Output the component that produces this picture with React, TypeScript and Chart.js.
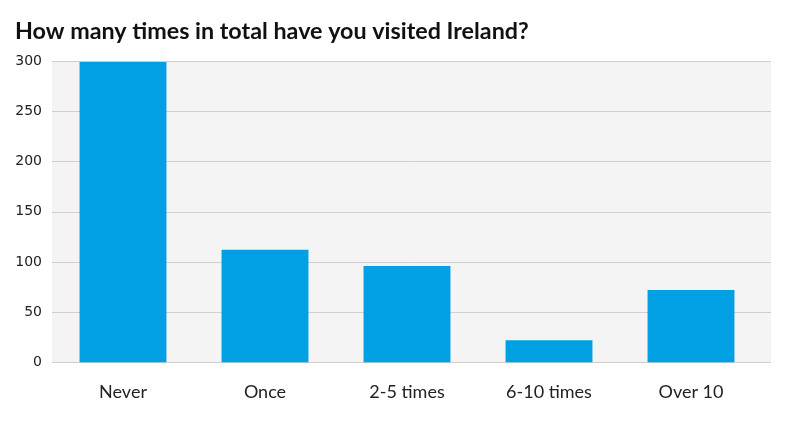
import React, { useEffect, useRef } from "react";
import { Chart, registerables } from "chart.js";

Chart.register(...registerables);

const TITLE = "How many times in total have you visited Ireland?";
const categories = ["Never", "Once", "2-5 times", "6-10 times", "Over 10"];
const counts = [299, 112, 96, 22, 72];
const yTicks = [0, 50, 100, 150, 200, 250, 300];

const EXTRA_RIGHT = 9;

const bgPlugin = {
  id: "plotBg",
  beforeDatasetsDraw(chart: any) {
    const { ctx, chartArea } = chart;
    if (!chartArea) return;
    ctx.save();
    ctx.fillStyle = "#f4f4f4";
    ctx.fillRect(
      chartArea.left,
      chartArea.top,
      chartArea.right - chartArea.left + EXTRA_RIGHT,
      chartArea.bottom - chartArea.top
    );
    const y = chart.scales.y;
    ctx.strokeStyle = "#cfcfcf";
    ctx.lineWidth = 1;
    for (const t of y.ticks) {
      const py = Math.round(y.getPixelForValue(t.value)) + 0.5;
      ctx.beginPath();
      ctx.moveTo(chartArea.left, py);
      ctx.lineTo(chartArea.right + EXTRA_RIGHT, py);
      ctx.stroke();
    }
    ctx.restore();
  },
};

export default function App() {
  const ref = useRef<HTMLCanvasElement | null>(null);
  useEffect(() => {
    if (!ref.current) return;
    const chart = new Chart(ref.current, {
      type: "bar",
      data: {
        labels: categories,
        datasets: [
          {
            data: counts,
            backgroundColor: "#00a0e3",
            barPercentage: 0.612,
            categoryPercentage: 1,
          },
        ],
      },
      options: {
        responsive: false,
        animation: false,
        layout: { padding: { left: 15, right: 29 + EXTRA_RIGHT, bottom: 3, top: 0 } },
        plugins: {
          legend: { display: false },
          tooltip: { enabled: false },
          title: {
            display: true,
            text: TITLE,
            align: "start",
            color: "#111",
            font: { family: "Lato", size: 23.3, weight: "bold" },
            padding: { top: 17, bottom: 16 },
          },
        },
        scales: {
          x: {
            grid: { display: false, drawTicks: false },
            border: { display: false },
            ticks: {
              color: "#222",
              font: { family: "Lato", size: 18 },
              padding: 19,
            },
          },
          y: {
            min: 0,
            max: 300,
            afterFit(scale: any) {
              scale.width = 37;
            },
            afterBuildTicks(scale: any) {
              scale.ticks = yTicks.map((v) => ({ value: v }));
            },
            grid: { display: false, drawTicks: false },
            border: { display: false },
            ticks: {
              color: "#222",
              font: { family: "DejaVu Sans", size: 14 },
              padding: 10,
            },
          },
        },
      },
      plugins: [bgPlugin],
    });
    return () => chart.destroy();
  }, []);
  return (
    <div style={{ position: "absolute", left: 0, top: 0, width: 800, height: 425, background: "#fff" }}>
      <canvas ref={ref} width={800} height={425} style={{ width: 800, height: 425 }} />
    </div>
  );
}
